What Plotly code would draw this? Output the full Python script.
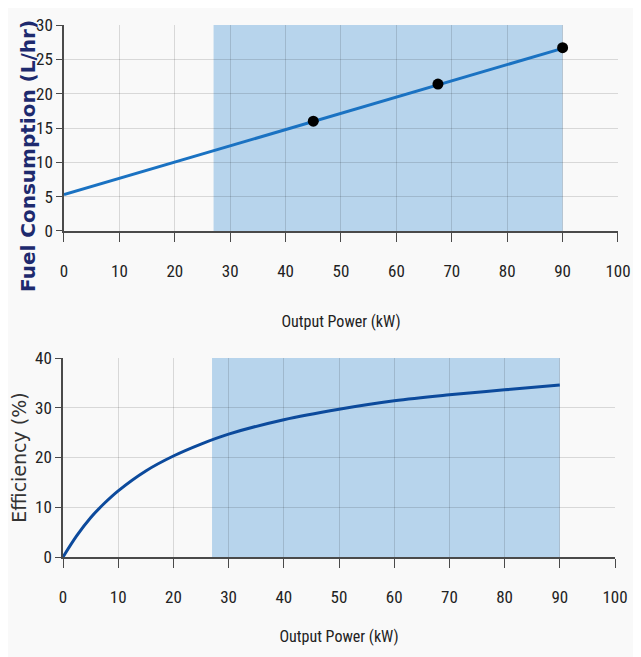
import plotly.graph_objects as go

# ---- data ----
fuel_line_x = [0, 90]
fuel_line_y = [5.3, 26.6]
fuel_pts_x = [45, 67.5, 90]
fuel_pts_y = [16.0, 21.4, 26.7]

eff_x = [0, 2.5, 5, 7.5, 10, 15, 20, 25, 30, 40, 50, 60, 70, 80, 90]
eff_y = [0, 4.3, 7.9, 10.8, 13.3, 17.3, 20.3, 22.7, 24.7, 27.6, 29.7, 31.4, 32.6, 33.6, 34.6]

shade_range = [27, 90]
x_ticks = [0, 10, 20, 30, 40, 50, 60, 70, 80, 90, 100]
fuel_ticks = [0, 5, 10, 15, 20, 25, 30]
eff_ticks = [0, 10, 20, 30, 40]

FONT = "Liberation Sans Narrow, Roboto Condensed, Arial Narrow, Liberation Sans, sans-serif"
BG = "#f9f9f9"
SHADE = "#b7d4ec"
GRID = "rgba(0,0,0,0.13)"
AXC = "#4a4a4a"

fig = go.Figure()
fig.add_trace(go.Scatter(x=fuel_line_x, y=fuel_line_y, mode="lines",
                         line=dict(color="#1a72c2", width=3), xaxis="x", yaxis="y",
                         showlegend=False))
fig.add_trace(go.Scatter(x=fuel_pts_x, y=fuel_pts_y, mode="markers",
                         marker=dict(color="black", size=11), xaxis="x", yaxis="y",
                         showlegend=False))
fig.add_trace(go.Scatter(x=eff_x, y=eff_y, mode="lines", line_shape="spline",
                         line=dict(color="#0c4a9c", width=3), xaxis="x2", yaxis="y2",
                         showlegend=False))

fig.add_shape(type="rect", xref="x", yref="y", x0=shade_range[0], x1=shade_range[1],
              y0=0, y1=30, fillcolor=SHADE, line_width=0, layer="below")
fig.add_shape(type="rect", xref="x2", yref="y2", x0=shade_range[0], x1=shade_range[1],
              y0=0, y1=40, fillcolor=SHADE, line_width=0, layer="below")

xcommon = dict(range=[0, 100], tickvals=x_ticks, showgrid=True, gridcolor=GRID,
               showline=True, linecolor=AXC, linewidth=1.5, ticks="outside",
               ticklen=9, tickcolor=AXC, tickwidth=1.2, zeroline=False, automargin=False,
               ticklabelstandoff=15, tickfont=dict(family=FONT, size=17, color="#222"))
ycommon = dict(showgrid=True, gridcolor=GRID, showline=True, linecolor=AXC,
               linewidth=1.5, ticks="outside", ticklen=6, tickcolor=AXC, tickwidth=1.2,
               zeroline=False, automargin=False,
               tickfont=dict(family=FONT, size=17, color="#222"))

# page body has an 8px margin, so the figure is 8px smaller and shifted
fig.update_layout(
    width=633, height=649, margin=dict(l=55, r=23, t=17, b=100),
    paper_bgcolor=BG, plot_bgcolor=BG,
    xaxis=dict(domain=[0.0018, 1.0], anchor="y",
               title=dict(text="Output Power (kW)", standoff=36,
                          font=dict(family=FONT, size=16, color="#222")), **xcommon),
    yaxis=dict(domain=[0.6128, 1.0], anchor="x", range=[0, 30], tickvals=fuel_ticks,
               **ycommon),
    xaxis2=dict(domain=[0.0, 0.9946], anchor="y2",
                title=dict(text="Output Power (kW)", standoff=25,
                           font=dict(family=FONT, size=16, color="#222")), **xcommon),
    yaxis2=dict(domain=[0.0, 0.374], anchor="x2", range=[0, 40], tickvals=eff_ticks,
                title=dict(text="Efficiency (%)", standoff=4,
                           font=dict(family="DejaVu Sans, sans-serif", size=19, color="#333")),
                **ycommon),
    annotations=[dict(text="<b>Fuel Consumption (L/hr)</b>", xref="paper", yref="paper",
                      x=(28 - 63) / 555, y=(557 - 156) / 532, textangle=-90, showarrow=False,
                      xanchor="center", yanchor="middle",
                      font=dict(family="DejaVu Sans, sans-serif", size=20, color="#1e2a6e"))],
)

fig.write_html("out.html")
